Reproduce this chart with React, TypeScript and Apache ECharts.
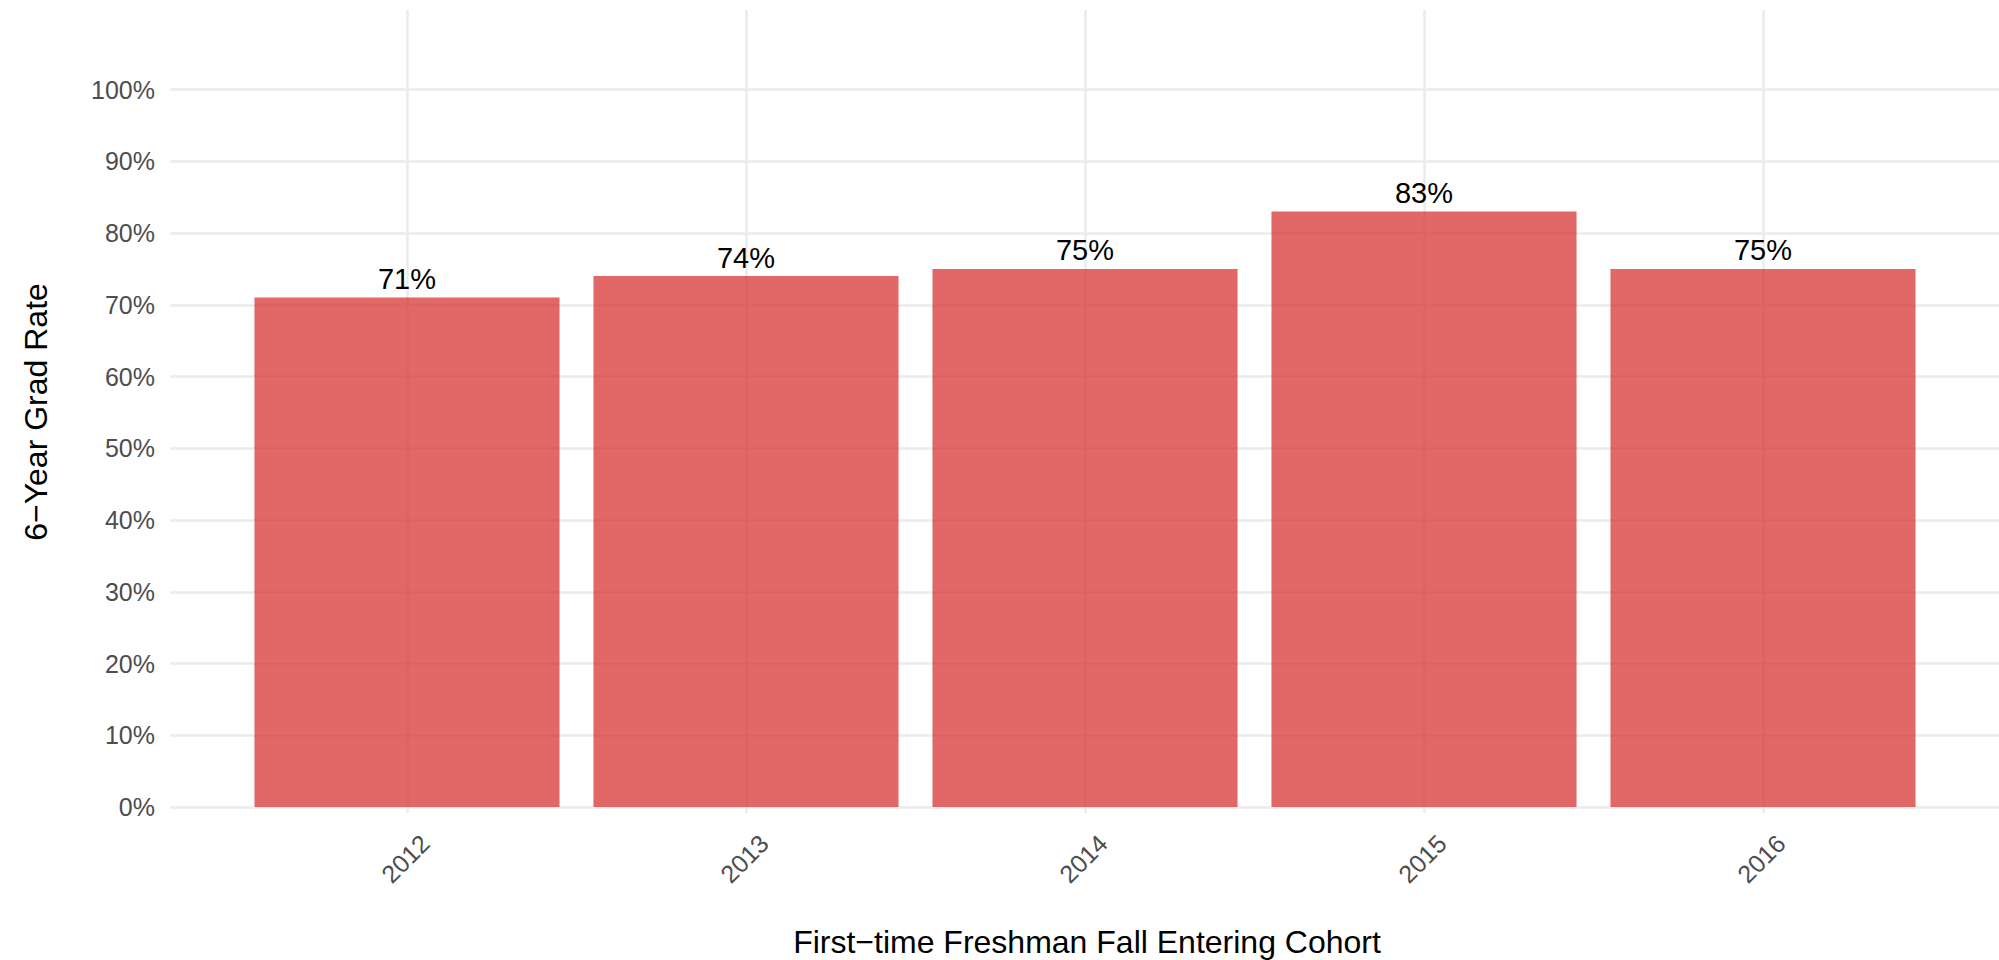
import React, { useEffect, useRef } from "react";
import * as echarts from "echarts";

const cohorts = ["2012", "2013", "2014", "2015", "2016"];
const gradRates = [71, 74, 75, 83, 75];
const yTickMin = 0;
const yTickMax = 100;
const yTickStep = 10;
const yTitle = "6\u2212Year Grad Rate";
const xTitle = "First\u2212time Freshman Fall Entering Cohort";

const W = 1999;
const H = 960;
const Y0 = 807; // pixel of 0%
const Y100 = 89.5; // pixel of 100%
const PANEL_TOP = 10;
const PANEL_BOTTOM = 813;
const PX_PER_UNIT = (Y0 - Y100) / 100;
const FONT = "'Liberation Sans', Arial, Helvetica, sans-serif";

export default function App() {
  const ref = useRef<HTMLDivElement>(null);
  useEffect(() => {
    document.body.style.margin = "0";
    if (!ref.current) return;
    const chart = echarts.init(ref.current, undefined, { renderer: "svg" });
    const ymin1 = -(PANEL_BOTTOM - Y0) / PX_PER_UNIT;
    const ymax1 = 100 + (Y100 - PANEL_TOP) / PX_PER_UNIT;
    chart.setOption({
      animation: false,
      backgroundColor: "#ffffff",
      textStyle: { fontFamily: FONT },
      grid: [
        { left: 170, right: 0, top: Y100, bottom: H - Y0 },
        { left: 237.5, width: 1695, top: PANEL_TOP, bottom: H - PANEL_BOTTOM },
      ],
      xAxis: [
        { gridIndex: 0, type: "value", min: 0, max: 1, show: false },
        {
          gridIndex: 1,
          type: "category",
          data: cohorts,
          axisLine: { show: false },
          axisTick: { show: false },
          splitLine: { show: false },
          axisLabel: {
            interval: 0,
            rotate: 45,
            fontSize: 25,
            lineHeight: 51,
            color: "#4d4d4d",
            fontFamily: FONT,
            margin: 8,
            formatter: (v: string) => "\n" + v,
          },
        },
      ],
      yAxis: [
        {
          gridIndex: 0,
          type: "value",
          min: yTickMin,
          max: yTickMax,
          interval: yTickStep,
          axisLine: { show: false },
          axisTick: { show: false },
          axisLabel: {
            formatter: "{value}%",
            fontSize: 25,
            color: "#4d4d4d",
            fontFamily: FONT,
            margin: 15,
          },
          splitLine: { show: true, lineStyle: { color: "#ebebeb", width: 2.5 } },
        },
        {
          gridIndex: 1,
          type: "value",
          min: ymin1,
          max: ymax1,
          show: false,
        },
      ],
      series: [
        {
          type: "line",
          xAxisIndex: 1,
          yAxisIndex: 1,
          data: [],
          z: 0,
          silent: true,
          markLine: {
            z: 0,
            silent: true,
            symbol: "none",
            label: { show: false },
            lineStyle: { color: "#ebebeb", width: 2.5, type: "solid" },
            data: cohorts.map((c) => ({ xAxis: c })),
          },
        },
        {
          type: "bar",
          xAxisIndex: 1,
          yAxisIndex: 1,
          data: gradRates,
          barWidth: "90%",
          z: 3,
          itemStyle: { color: "rgba(214,40,40,0.7)" },
          label: {
            show: true,
            position: "top",
            distance: 4,
            formatter: "{c}%",
            fontSize: 29,
            color: "#000000",
            fontFamily: FONT,
          },
        },
      ],
      graphic: [
        {
          type: "text",
          x: 36,
          y: 412,
          rotation: Math.PI / 2,
          style: {
            text: yTitle,
            fontSize: 32,
            fill: "#000000",
            fontFamily: FONT,
            align: "center",
            verticalAlign: "middle",
          },
        },
        {
          type: "text",
          x: 1087,
          y: 942,
          style: {
            text: xTitle,
            fontSize: 32,
            fill: "#000000",
            fontFamily: FONT,
            align: "center",
            verticalAlign: "middle",
          },
        },
      ],
    });
    return () => chart.dispose();
  }, []);
  return <div ref={ref} style={{ width: W, height: H }} />;
}
